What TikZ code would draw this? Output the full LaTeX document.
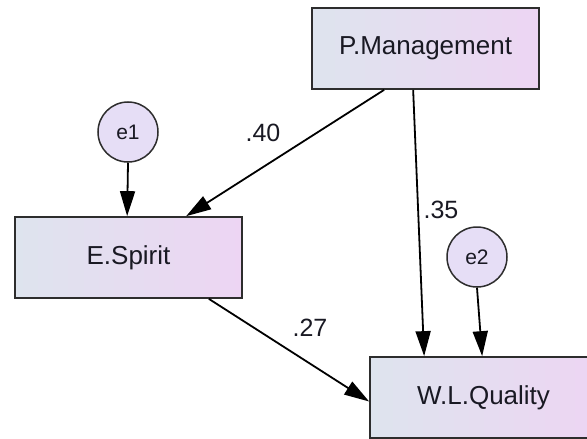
\documentclass[tikz,border=0pt]{standalone}
\usepackage{fontspec}
\setmainfont{Liberation Sans}
\usetikzlibrary{arrows.meta}
\definecolor{boxL}{RGB}{222,228,238}
\definecolor{boxR}{RGB}{237,213,243}
\definecolor{circF}{RGB}{230,222,246}
\definecolor{edgec}{RGB}{45,45,45}
\definecolor{txt}{RGB}{25,25,35}
\begin{document}
\begin{tikzpicture}[x=1pt,y=-1pt,
  obs/.style={draw=edgec,line width=1.7pt,left color=boxL,right color=boxR,
    minimum width=227pt,minimum height=81pt,inner sep=0pt,
    font=\fontsize{26}{30}\selectfont,text=txt},
  err/.style={circle,draw=edgec,line width=1.5pt,fill=circF,minimum size=60pt,
    inner sep=0pt,font=\fontsize{21}{24}\selectfont,text=txt},
  conn/.style={draw=black,line width=1.8pt,-{Triangle[length=25pt,width=15pt]}},
  coef/.style={font=\fontsize{25}{28}\selectfont,text=txt,inner sep=0pt}]
\useasboundingbox (0,0) rectangle (587,439);
\clip (0,0) rectangle (587,439);
\fill[white] (0,0) rectangle (587,439);

\node[obs] (pm) at (425.5,48.5) {P.Management};
\node[obs] (es) at (128.5,257.5) {E.Spirit};
\node[obs] (wl) at (483.5,397.5) {W.L.Quality};
\node[err] (e1) at (128,132) {e1};
\node[err] (e2) at (477,257) {e2};

\draw[conn] ([xshift=73pt]pm.south west) -- ([xshift=172pt]es.north west);
\draw[conn] ([xshift=102pt]pm.south west) -- ([xshift=55pt]wl.north west);
\draw[conn] (e1.south) -- ([xshift=113pt]es.north west);
\draw[conn] (e2.south) -- ([xshift=113pt]wl.north west);
\draw[conn] ([xshift=-34pt]es.south east) -- ([yshift=-4pt]wl.west);

\node[coef] (c40) at (263,133) {.40};
\node[coef] (c35) at (441,210) {.35};
\node[coef] (c27) at (310,328) {.27};
\end{tikzpicture}
\end{document}
